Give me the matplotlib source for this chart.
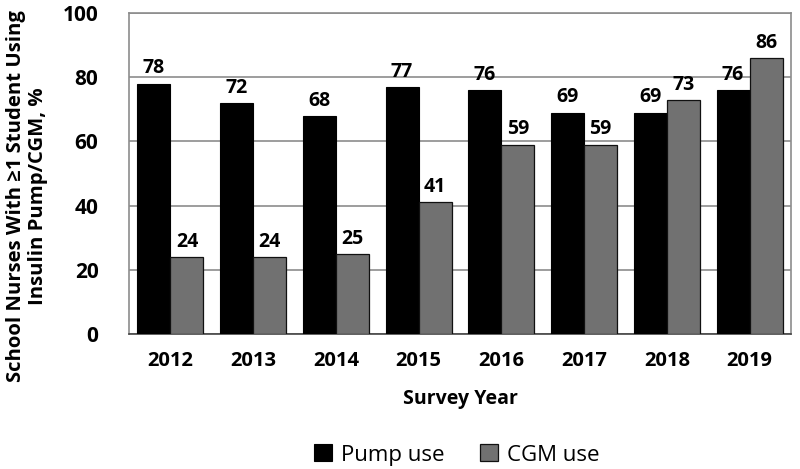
import matplotlib
matplotlib.use("Agg")
import matplotlib.pyplot as plt
import numpy as np

years = ["2012", "2013", "2014", "2015", "2016", "2017", "2018", "2019"]
pump = [78, 72, 68, 77, 76, 69, 69, 76]
cgm = [24, 24, 25, 41, 59, 59, 73, 86]
yticks = [0, 20, 40, 60, 80, 100]

plt.rcParams['font.family'] = ['Open Sans', 'DejaVu Sans']

fig = plt.figure(figsize=(8, 4.69), dpi=100)
ax = fig.add_axes([129/800, 1-334/469, (791-129)/800, (334-13)/469])

x = np.arange(len(years))
w = 0.4
b1 = ax.bar(x - w/2, pump, w, color='black', edgecolor='black', linewidth=0.8, label='Pump use', zorder=3)
b2 = ax.bar(x + w/2, cgm, w, color='#717171', edgecolor='#111111', linewidth=0.9, label='CGM use', zorder=3)

for rect, v in zip(b1, pump):
    ax.text(rect.get_x() + rect.get_width()/2, v + 1.6, str(v), ha='center', va='bottom',
            fontsize=14, fontweight='bold')
for rect, v in zip(b2, cgm):
    ax.text(rect.get_x() + rect.get_width()/2, v + 1.6, str(v), ha='center', va='bottom',
            fontsize=14, fontweight='bold')

ax.set_xlim(-0.5, len(years) - 0.5)
ax.set_ylim(0, 100)
ax.set_yticks(yticks)
ax.set_yticklabels([str(t) for t in yticks], fontsize=15, fontweight='bold')
ax.set_xticks(x)
ax.set_xticklabels(years, fontsize=14.5, fontweight='bold')
ax.tick_params(axis='both', length=0, pad=12)
ax.tick_params(axis='y', pad=22)
ax.yaxis.grid(True, color='#8c8c8c', linewidth=1.2, zorder=0)
for s in ax.spines.values():
    s.set_color('#8c8c8c')
    s.set_linewidth(1.2)
ax.spines['bottom'].set_color('#444444')

ax.set_xlabel('Survey Year', fontsize=14, fontweight='bold', labelpad=13)
fig.text(27/800, 1-196/469, 'School Nurses With \u22651 Student Using\nInsulin Pump/CGM, %',
         rotation=90, ha='center', va='center', multialignment='center',
         fontsize=14.6, fontweight='bold', linespacing=1.15)

fig.legend(handles=[b1, b2], labels=['Pump use', 'CGM use'], loc='center',
           bbox_to_anchor=(0.571, 1-455/469), ncol=2, frameon=False, fontsize=16,
           handlelength=0.8, handleheight=0.8, columnspacing=1.6, handletextpad=0.4,
           borderpad=0.1)

fig.savefig('out.png', dpi=100)
